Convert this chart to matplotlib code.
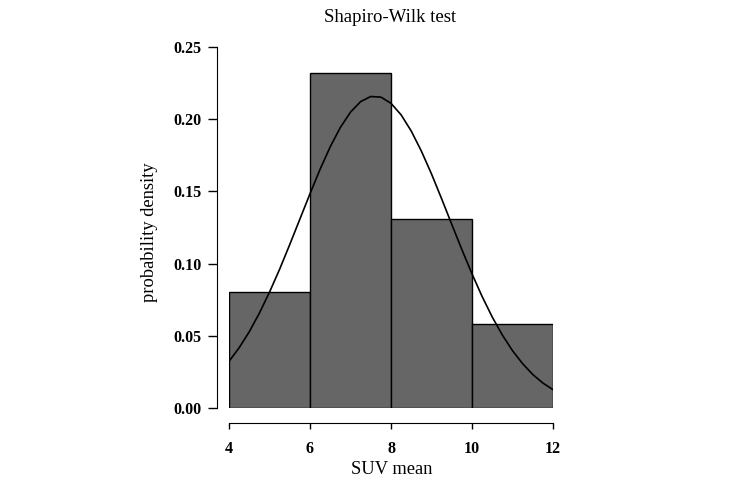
import matplotlib
matplotlib.use("Agg")
import matplotlib.pyplot as plt
import numpy as np

# Histogram (density) of SUV mean
BIN_EDGES = [4, 6, 8, 10, 12]
DENSITY = [0.080, 0.232, 0.131, 0.058]

# Normal curve
CURVE_X = [4.0, 4.25, 4.5, 4.75, 5.0, 5.25, 5.5, 5.75, 6.0, 6.25, 6.5, 6.75,
           7.0, 7.25, 7.5, 7.75, 8.0, 8.25, 8.5, 8.75, 9.0, 9.25, 9.5, 9.75,
           10.0, 10.25, 10.5, 10.75, 11.0, 11.25, 11.5, 11.75, 12.0]
CURVE_Y = [0.0323, 0.0417, 0.0528, 0.0657, 0.0802, 0.0961, 0.1132, 0.1308,
           0.1484, 0.1654, 0.1809, 0.1943, 0.2049, 0.2122, 0.2157, 0.2153,
           0.2110, 0.2030, 0.1918, 0.1779, 0.1621, 0.1449, 0.1272, 0.1097,
           0.0929, 0.0772, 0.0630, 0.0505, 0.0397, 0.0307, 0.0232, 0.0173,
           0.0127]

X_TICKS = [4, 6, 8, 10, 12]
Y_TICKS = [0.00, 0.05, 0.10, 0.15, 0.20, 0.25]

plt.rcParams["font.family"] = ["Liberation Serif", "DejaVu Serif"]

W, H = 750, 478
fig = plt.figure(figsize=(W / 100, H / 100), dpi=100)
ax = fig.add_axes([229 / W, (H - 408) / H, 324 / W, 361 / H])

edges = np.array(BIN_EDGES, dtype=float)
ax.bar(edges[:-1], DENSITY, width=np.diff(edges), align="edge",
       color="#666666", edgecolor="black", linewidth=1.0)
ax.plot(CURVE_X, CURVE_Y, color="black", linewidth=1.2)

ax.set_xlim(4, 12)
ax.set_ylim(0, 0.25)

# R-style detached axes (offsets in points)
for side in ("top", "right"):
    ax.spines[side].set_visible(False)
ax.spines["left"].set_position(("outward", 8.5))
ax.spines["bottom"].set_position(("outward", 10.5))
ax.spines["left"].set_bounds(0, 0.25)
ax.spines["bottom"].set_bounds(4, 12)

ax.set_xticks(X_TICKS)
ax.set_xticklabels([str(t) for t in X_TICKS], fontweight="bold", fontsize=11.5)
ax.set_yticks(Y_TICKS)
ax.set_yticklabels([f"{t:.2f}" for t in Y_TICKS], fontweight="bold", fontsize=11.5)
ax.tick_params(axis="x", length=4.5, width=1.0, pad=9)
ax.tick_params(axis="y", length=6.5, width=1.0, pad=5)

# axis titles placed at their pixel spots
fig.text(392 / W, 1 - 469 / H, "SUV mean", fontsize=13.3, ha="center", va="center")
fig.text(150 / W, 1 - 232 / H, "probability density", fontsize=13.3,
         ha="center", va="center", rotation=90)
fig.text(390 / W, 1 - 18 / H, "Shapiro-Wilk test", fontsize=13.5,
         ha="center", va="center")

fig.savefig("out.png", dpi=100)
